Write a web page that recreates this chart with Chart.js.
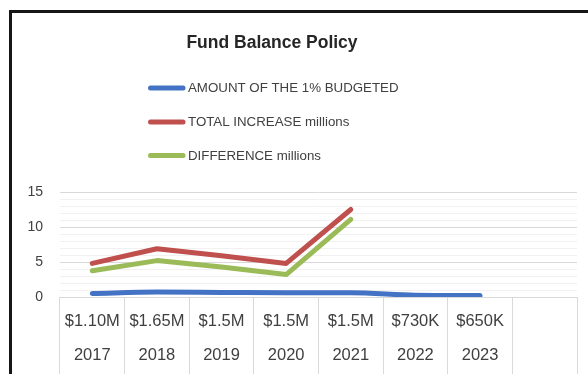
<!DOCTYPE html>
<html>
<head>
<meta charset="utf-8">
<script src="https://cdn.jsdelivr.net/npm/chart.js@4.4.1/dist/chart.umd.min.js"></script>
<style>
  html, body { margin: 0; padding: 0; background: #fff; width: 588px; height: 374px; overflow: hidden; }
  #frame { position: absolute; left: 9px; top: 10px; width: 700px; height: 500px;
           border-left: 3px solid #161616; border-top: 3px solid #161616; box-sizing: border-box; }
  #wrap { position: absolute; left: 0; top: 0; width: 588px; height: 374px; }
</style>
</head>
<body>
<div id="frame"></div>
<div id="wrap"><canvas id="c" width="588" height="374"></canvas></div>
<script>
// Chart text and data
const chartTitle = 'Fund Balance Policy';
const years = ['2017', '2018', '2019', '2020', '2021', '2022', '2023', ''];
const budgetLabels = ['$1.10M', '$1.65M', '$1.5M', '$1.5M', '$1.5M', '$730K', '$650K', ''];
const seriesNames = ['AMOUNT OF THE 1% BUDGETED', 'TOTAL INCREASE millions', 'DIFFERENCE millions'];
const amountBudgeted = [0.5, 0.7, 0.65, 0.6, 0.6, 0.25, 0.2, null];
const totalIncrease = [4.8, 6.9, 5.9, 4.8, 12.5, null, null, null];
const difference = [3.75, 5.2, 4.3, 3.2, 11.1, null, null, null];
const yMin = 0, yMax = 15, yMajorStep = 5, yMinorStep = 1;
const seriesColors = ['#4472C4', '#C0504D', '#9BBB59'];

const FONT = '"Liberation Sans", Arial, sans-serif';

// Two-row category labels: budget amount above the year
const categoryLabels = years.map((y, i) => [budgetLabels[i], y]);

// Title and stacked legend drawn above the plot area
const headerPlugin = {
  id: 'header',
  afterDraw(chart) {
    const ctx = chart.ctx;
    ctx.save();
    ctx.fillStyle = '#262626';
    ctx.font = 'bold 17.5px ' + FONT;
    ctx.textAlign = 'center';
    ctx.textBaseline = 'middle';
    ctx.fillText(chartTitle, 272, 43);

    const rowY = [88, 122, 155.5];
    ctx.font = '13.3px ' + FONT;
    ctx.textAlign = 'left';
    chart.data.datasets.forEach((ds, i) => {
      ctx.strokeStyle = ds.borderColor;
      ctx.lineWidth = 5;
      ctx.lineCap = 'round';
      ctx.beginPath();
      ctx.moveTo(150.5, rowY[i]);
      ctx.lineTo(183, rowY[i]);
      ctx.stroke();
      ctx.fillStyle = '#404040';
      ctx.fillText(ds.label, 188, rowY[i] + 0.5);
    });
    ctx.restore();
  }
};

const lineStyle = {
  borderWidth: 5,
  pointRadius: 0,
  pointHoverRadius: 0,
  borderCapStyle: 'round',
  borderJoinStyle: 'round',
  fill: false,
  spanGaps: false
};

// Category tick marks run down through the label rows, so the labels are pulled
// back up over them with a negative padding and the axis box height is fixed.
const X_TICK_LEN = 77;
const X_LABEL_PAD = -69.5;
const X_AXIS_HEIGHT = 77;

new Chart(document.getElementById('c'), {
  type: 'line',
  data: {
    labels: categoryLabels,
    datasets: [
      Object.assign({ label: seriesNames[0], data: amountBudgeted, borderColor: seriesColors[0],
                      backgroundColor: seriesColors[0], cubicInterpolationMode: 'monotone' }, lineStyle),
      Object.assign({ label: seriesNames[1], data: totalIncrease, borderColor: seriesColors[1],
                      backgroundColor: seriesColors[1], tension: 0 }, lineStyle),
      Object.assign({ label: seriesNames[2], data: difference, borderColor: seriesColors[2],
                      backgroundColor: seriesColors[2], tension: 0 }, lineStyle)
    ]
  },
  options: {
    responsive: false,
    devicePixelRatio: 1,
    animation: false,
    layout: { padding: { top: 192, left: 10.4, right: 11, bottom: 0 } },
    plugins: {
      legend: { display: false },
      title: { display: false },
      tooltip: { enabled: false }
    },
    scales: {
      x: {
        offset: true,
        afterFit: (scale) => { scale.height = X_AXIS_HEIGHT; },
        grid: {
          offset: true,
          drawOnChartArea: false,
          drawTicks: true,
          tickLength: X_TICK_LEN,
          tickColor: '#d9d9d9',
          tickWidth: 1
        },
        border: { display: true, color: '#d9d9d9', width: 1 },
        ticks: {
          autoSkip: false,
          maxRotation: 0,
          padding: X_LABEL_PAD,
          color: '#404040',
          font: { family: FONT, size: 16.5, lineHeight: 2.05 }
        }
      },
      y: {
        min: yMin,
        max: yMax,
        grid: {
          drawTicks: false,
          color: (c) => (c.tick && c.tick.value % yMajorStep === 0) ? '#d9d9d9' : '#f1f1f1',
          lineWidth: 1
        },
        border: { display: false },
        ticks: {
          stepSize: yMinorStep,
          autoSkip: false,
          padding: 17,
          color: '#404040',
          font: { family: FONT, size: 14 },
          callback: (v) => (v % yMajorStep === 0 ? String(v) : '')
        }
      }
    }
  },
  plugins: [headerPlugin]
});
</script>
</body>
</html>
